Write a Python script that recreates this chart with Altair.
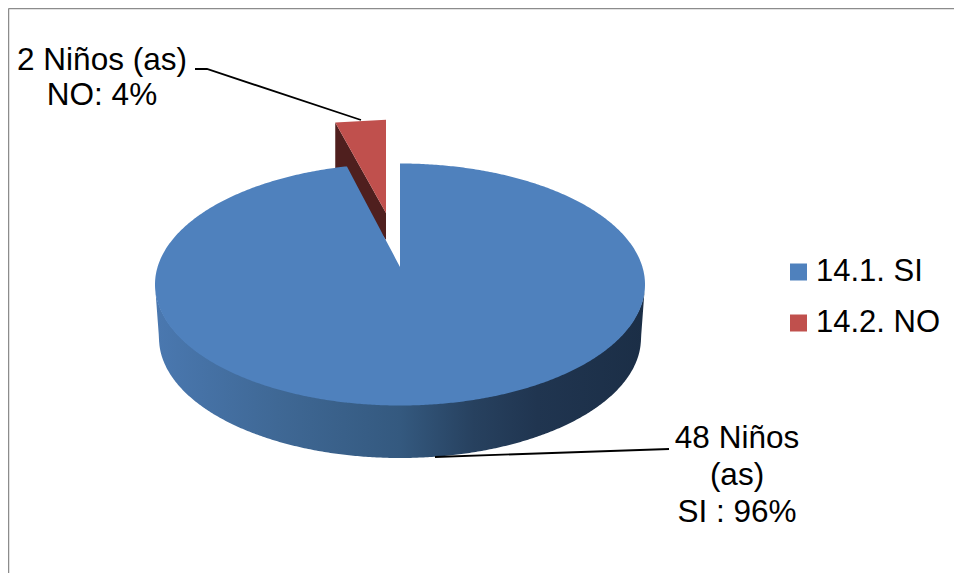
import math
import altair as alt
import pandas as pd

categories = ["14.1. SI", "14.2. NO"]
counts = [48, 2]
colors = ["#4F81BD", "#C0504D"]
dark_red = "#4F1F1E"
label_lines = [["2 Niños (as)", "NO: 4%"], ["48 Niños", "(as)", "SI : 96%"]]

# Pie geometry in picture units
CX, CY, RX, RY = 400.0, 284.5, 245.0, 121.0
BASE_CY, BASE_RX, BASE_RY = 338.0, 241.0, 120.0
SQUEEZE = 0.87          # perspective narrowing of the slice angle
APEX_Y = 267.0
EXPLODE_APEX = (386.0, 213.0)
EXPLODE_SCALE = (0.955, 0.90)
W, H = 946, 565

share = counts[1] / sum(counts)
theta = 2 * math.pi * share * SQUEEZE
corner = (CX - RX * math.sin(theta), CY - RY * math.cos(theta))
top = (CX, CY - RY)

xs = alt.X("x:Q", sort=None, scale=alt.Scale(domain=[8, 8 + W], nice=False, zero=False), axis=None)
ys = alt.Y("y:Q", scale=alt.Scale(domain=[8 + H, 8], nice=False, zero=False), axis=None)
y_low = alt.Y2("yb:Q")


def ell_y(x, sign):
    u = max(-1.0, min(1.0, (x - CX) / RX))
    return CY + sign * RY * math.sqrt(1 - u * u)


# Blue top face (ellipse with the wedge cut out)
rows = []
N = 360
for k in range(N + 1):
    x = CX - RX * math.cos(math.pi * k / N)
    if x <= corner[0] or x >= CX:
        upper = ell_y(x, -1)
    else:
        upper = corner[1] + (APEX_Y - corner[1]) * (x - corner[0]) / (CX - corner[0])
    rows.append((x, upper, ell_y(x, 1)))
rows += [(corner[0], corner[1], ell_y(corner[0], 1)), (CX, APEX_Y, CY + RY), (CX, top[1], CY + RY)]
rows.sort(key=lambda r: (r[0], -r[1] if r[0] == CX else r[1]))
blue = pd.DataFrame(rows, columns=["x", "y", "yb"])
blue = blue[(blue.x != CX) | (blue.y.isin([APEX_Y, top[1]]))].drop_duplicates().reset_index(drop=True)
blue["serie"] = categories[0]

# Blue side wall
side = []
for k in range(N + 1):
    x = CX - RX * math.cos(math.pi * k / N)
    u = (x - CX) / BASE_RX
    if abs(u) <= 1:
        low = BASE_CY + BASE_RY * math.sqrt(1 - u * u)
    else:
        low = CY + (BASE_CY - CY) * (abs(x - CX) - RX) / (BASE_RX - RX)
    side.append((x, ell_y(x, 1) - 1, low))
side = pd.DataFrame(side, columns=["x", "y", "yb"])

# Exploded red slice
ax, ay = EXPLODE_APEX
rc = (ax + EXPLODE_SCALE[0] * (corner[0] - CX), ay + EXPLODE_SCALE[1] * (corner[1] - APEX_Y))
rt = (ax, ay + EXPLODE_SCALE[1] * (top[1] - APEX_Y))
red = pd.DataFrame({"x": [rc[0], rt[0]], "y": [rc[1], rt[1]], "yb": [rc[1], ay],
                    "serie": [categories[1]] * 2})
red_wall = pd.DataFrame({"x": [rc[0], ax], "y": [rc[1], ay], "yb": [rc[1] + 50, ay + 27]})

color = alt.Color(
    "serie:N",
    scale=alt.Scale(domain=categories, range=colors),
    legend=alt.Legend(
        orient="none", legendX=775, legendY=248.5, title=None, symbolType="square",
        symbolSize=289, symbolStrokeWidth=0, labelFont="Liberation Sans", labelFontSize=31,
        labelColor="#000000", labelOffset=2, rowPadding=19, labelLimit=200,
    ),
)

side_layer = alt.Chart(side).mark_area(
    orient="vertical",
    fill=alt.Gradient(
        gradient="linear", x1=0, x2=1, y1=0, y2=0,
        stops=[
            alt.GradientStop(offset=0, color="#4A78B0"),
            alt.GradientStop(offset=0.25, color="#3F6895"),
            alt.GradientStop(offset=0.5, color="#34597F"),
            alt.GradientStop(offset=0.65, color="#27415F"),
            alt.GradientStop(offset=0.78, color="#203550"),
            alt.GradientStop(offset=1, color="#1B2E46"),
        ],
    ),
).encode(x=xs, y=ys, y2=y_low)

wall_layer = alt.Chart(red_wall).mark_area(orient="vertical", color=dark_red).encode(x=xs, y=ys, y2=y_low)
red_layer = alt.Chart(red).mark_area(orient="vertical").encode(x=xs, y=ys, y2=y_low, color=color)
blue_layer = alt.Chart(blue).mark_area(orient="vertical").encode(x=xs, y=ys, y2=y_low, color=color)

# Frame of the picture
frame = pd.DataFrame({"x": [8.5, 8.5], "y": [8.5, 8.5], "xe": [8.5, 8 + W], "ye": [8 + H, 8.5]})
frame_layer = alt.Chart(frame).mark_rule(color="#8C8C8C", strokeWidth=1.5).encode(
    x=xs, y=ys, x2="xe:Q", y2="ye:Q"
)

# Leader lines
leaders = pd.DataFrame({
    "x": [195, 207, 361, 435, 669],
    "y": [69, 69, 120, 457, 449],
    "g": [0, 0, 0, 1, 1],
})
leader_layer = alt.Chart(leaders).mark_line(color="#000000", strokeWidth=1.8).encode(
    x=xs, y=ys, detail="g:N"
)

# Data labels
texts = pd.DataFrame({
    "x": [102, 102, 737, 737, 737],
    "y": [70, 105, 448, 485, 522],
    "t": label_lines[0] + label_lines[1],
})
text_layer = alt.Chart(texts).mark_text(
    font="Liberation Sans", fontSize=31.5, color="#000000", align="center", baseline="alphabetic"
).encode(x=xs, y=ys, text="t:N")

chart = (
    alt.layer(side_layer, wall_layer, red_layer, blue_layer, frame_layer, leader_layer, text_layer)
    .properties(width=W, height=H, padding=0, autosize=alt.AutoSizeParams(type="none"), background="#FFFFFF")
    .configure_view(stroke=None)
)
chart.save("out.html", embed_options={"renderer": "svg", "actions": False})
